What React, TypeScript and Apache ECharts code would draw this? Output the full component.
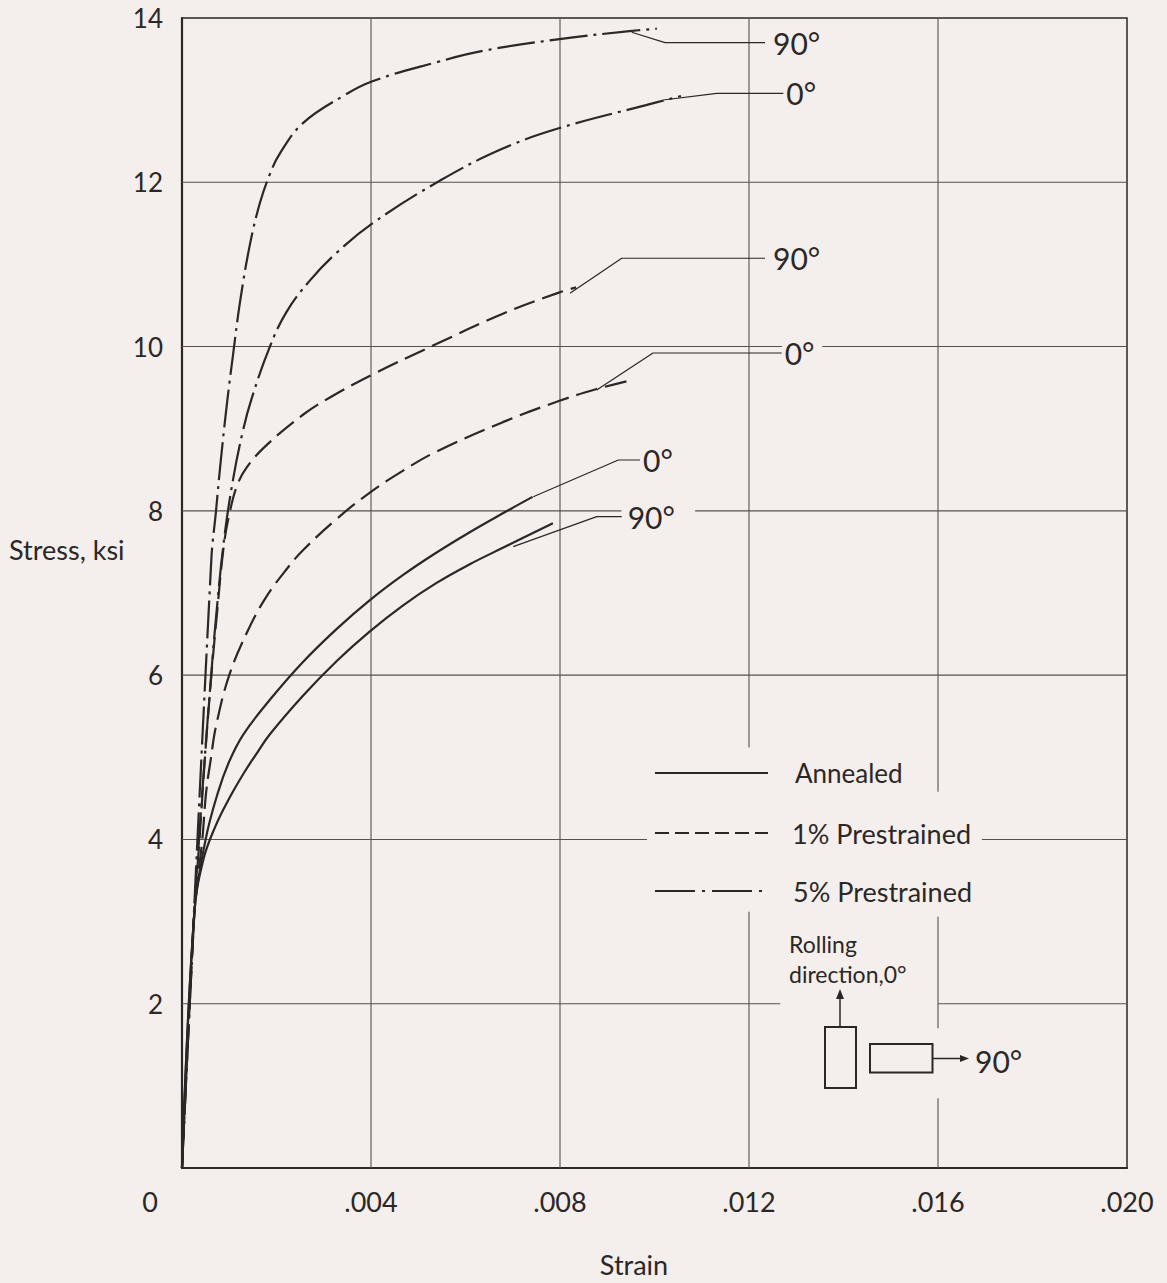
import { useEffect, useRef } from 'react';
import * as echarts from 'echarts';

// ---------- axis ticks ----------
const X_MIN = 0;
const X_MAX = 0.02;
const X_STEP = 0.004;
const Y_MIN = 0;
const Y_MAX = 14;
const Y_STEP = 2;

// ---------- curves: [strain, stress ksi] ----------
const annealed0: [number, number][] = [
  [0, 0], [0.00026, 3.1], [0.0005, 4.0], [0.00076, 4.57], [0.001, 4.95], [0.0013, 5.28],
  [0.00186, 5.7], [0.00256, 6.16], [0.00327, 6.56], [0.00397, 6.91], [0.00468, 7.22],
  [0.00538, 7.49], [0.00609, 7.74], [0.00679, 7.97], [0.00742, 8.17],
];
const annealed90: [number, number][] = [
  [0, 0], [0.00026, 3.1], [0.00045, 3.75], [0.0007, 4.15], [0.001, 4.5], [0.0013, 4.8],
  [0.00155, 5.02], [0.00186, 5.28], [0.00256, 5.75], [0.00327, 6.17], [0.00397, 6.53],
  [0.00468, 6.85], [0.00538, 7.12], [0.00609, 7.35], [0.00679, 7.55], [0.00785, 7.85],
];
const pre1_0: [number, number][] = [
  [0, 0], [0.00026, 3.1], [0.00043, 4.0], [0.00051, 4.57], [0.00061, 4.98], [0.00072, 5.38],
  [0.001, 6.0], [0.0014, 6.55], [0.00178, 6.95], [0.0022, 7.28], [0.00256, 7.52], [0.00327, 7.9],
  [0.00397, 8.22], [0.00468, 8.49], [0.00538, 8.72], [0.00679, 9.08], [0.00799, 9.34],
  [0.00876, 9.48], [0.00957, 9.6],
];
const pre1_90: [number, number][] = [
  [0, 0], [0.00026, 3.1], [0.00037, 4.0], [0.00048, 4.95], [0.0006, 5.85], [0.00074, 6.75],
  [0.00089, 7.6], [0.00101, 7.98], [0.00116, 8.3], [0.00137, 8.53], [0.00179, 8.8],
  [0.00256, 9.17], [0.00313, 9.38], [0.00403, 9.66], [0.00538, 10.03], [0.00679, 10.4],
  [0.00799, 10.66], [0.00834, 10.72],
];
const pre5_0: [number, number][] = [
  [0, 0], [0.00026, 3.1], [0.00036, 4.0], [0.00047, 4.9], [0.00059, 5.8], [0.00072, 6.7],
  [0.00089, 7.65], [0.00108, 8.38], [0.00128, 8.95], [0.00147, 9.36], [0.00186, 10.0],
  [0.00221, 10.42], [0.0027, 10.8], [0.00327, 11.14], [0.00403, 11.5], [0.00549, 12.03],
  [0.00679, 12.41], [0.00799, 12.66], [0.00982, 12.94], [0.01056, 13.05],
];
const pre5_90: [number, number][] = [
  [0, 0], [0.00062, 7.4], [0.00072, 8.0], [0.00081, 8.55], [0.00095, 9.3], [0.00108, 9.9],
  [0.00123, 10.55], [0.00144, 11.25], [0.00165, 11.75], [0.00186, 12.1], [0.00207, 12.35],
  [0.00256, 12.72], [0.00341, 13.05], [0.00403, 13.23], [0.00538, 13.46], [0.00637, 13.6],
  [0.00795, 13.74], [0.00947, 13.84], [0.01005, 13.87],
];

// ---------- leader lines (strain, stress) with their labels ----------
const leaders: { label: string; pts: [number, number][]; gap: number }[] = [
  { label: '90°', pts: [[0.009518, 13.826], [0.010222, 13.7], [0.012339, 13.7]], gap: 8 },
  { label: '0°', pts: [[0.010186, 13.002], [0.011316, 13.083], [0.012726, 13.083]], gap: 3 },
  { label: '90°', pts: [[0.008212, 10.649], [0.009306, 11.075], [0.012339, 11.075]], gap: 8 },
  { label: '0°', pts: [[0.008777, 9.471], [0.009968, 9.922], [0.012692, 9.922]], gap: 3 },
  { label: '0°', pts: [[0.007435, 8.172], [0.009234, 8.619], [0.009693, 8.619]], gap: 3 },
  { label: '90°', pts: [[0.007011, 7.564], [0.008777, 7.929], [0.009306, 7.929]], gap: 6 },
];

// ---------- grid line segments (gaps where the original lettering sits) ----------
const gridSegs: [number, number, number, number][] = [
  [0.004, 0, 0.004, 14], [0.008, 0, 0.008, 14],
  [0.012, 0, 0.012, 3.12], [0.012, 5.12, 0.012, 14],
  [0.016, 0, 0.016, 0.85], [0.016, 1.7, 0.016, 3.06], [0.016, 4.58, 0.016, 14],
  [0, 2, 0.01266, 2], [0.016, 2, 0.02, 2],
  [0, 4, 0.00984, 4], [0.01693, 4, 0.02, 4],
  [0, 6, 0.02, 6],
  [0, 8, 0.0093, 8], [0.01086, 8, 0.02, 8],
  [0, 10, 0.0127, 10], [0.01355, 10, 0.02, 10],
  [0, 12, 0.02, 12],
];

const INK = '#2b2727';
const GRIDC = '#565050';
const BG = '#f4eeec';
const FONT = 'Lato, "DejaVu Sans", sans-serif';
const DASH = [22, 8];
const DASHDOT = [38, 6, 3, 6];

function fmtX(v: number): string {
  if (v === 0) return '{z|0}';
  return '.' + String(Math.round(v * 1000)).padStart(3, '0');
}

export default function App() {
  const ref = useRef<HTMLDivElement>(null);
  useEffect(() => {
    const chart = echarts.init(ref.current!, null, { renderer: 'svg' });

    const curve = (name: string, data: [number, number][], type: any) => ({
      name,
      type: 'line',
      data,
      smooth: 0.4,
      showSymbol: false,
      silent: true,
      z: 5,
      lineStyle: { color: INK, width: 2.2, type, cap: 'butt' },
    });

    const gridSeries = gridSegs.map((s) => ({
      type: 'line',
      data: [[s[0], s[1]], [s[2], s[3]]],
      showSymbol: false,
      silent: true,
      z: 1,
      lineStyle: { color: GRIDC, width: 1.1 },
    }));

    const leaderSeries = leaders.map((l) => ({
      type: 'line',
      data: l.pts,
      showSymbol: false,
      silent: true,
      z: 4,
      lineStyle: { color: INK, width: 1.2 },
      endLabel: {
        show: true,
        formatter: l.label,
        distance: l.gap,
        fontSize: 30,
        fontFamily: FONT,
        color: INK,
      },
    }));

    const text = (t: string, x: number, y: number, size: number, align = 'left') => ({
      type: 'text',
      x,
      y,
      z: 10,
      style: {
        text: t,
        fontSize: size,
        fontFamily: FONT,
        fill: INK,
        textAlign: align,
        align,
        textVerticalAlign: 'middle',
        verticalAlign: 'middle',
      },
    });
    const seg = (x1: number, y1: number, x2: number, y2: number, dash?: number[], w = 2) => ({
      type: 'line',
      z: 10,
      shape: { x1, y1, x2, y2 },
      style: { stroke: INK, lineWidth: w, lineDash: dash || null },
    });

    const option: any = {
      animation: false,
      backgroundColor: BG,
      grid: {
        left: 182,
        right: 40,
        top: 18,
        bottom: 115,
        show: true,
        borderColor: INK,
        borderWidth: 1.5,
      },
      xAxis: {
        type: 'value',
        min: X_MIN,
        max: X_MAX,
        interval: X_STEP,
        axisLine: { show: true, lineStyle: { color: INK, width: 2.2 } },
        axisTick: { show: false },
        splitLine: { show: false },
        axisLabel: {
          showMinLabel: true,
          showMaxLabel: true,
          margin: 20,
          fontSize: 27,
          fontFamily: FONT,
          color: INK,
          formatter: fmtX,
          rich: { z: { fontSize: 27, fontFamily: FONT, color: INK, padding: [0, 64, 0, 0] } },
        },
      },
      yAxis: {
        type: 'value',
        min: Y_MIN,
        max: Y_MAX,
        interval: Y_STEP,
        axisLine: { show: true, lineStyle: { color: INK, width: 2.2 } },
        axisTick: { show: false },
        splitLine: { show: false },
        axisLabel: {
          margin: 19,
          fontSize: 26,
          fontFamily: FONT,
          color: INK,
          padding: [8, 0, 0, 0],
          formatter: (v: number) => (v === 0 ? '' : String(v)),
        },
      },
      graphic: [
        text('Stress, ksi', 9, 549, 27),
        text('Strain', 634, 1264, 27, 'center'),
        // legend
        seg(655, 773, 768, 773),
        text('Annealed', 795, 773, 26),
        seg(655, 833, 768, 833, [14, 6]),
        text('1% Prestrained', 792, 833, 27),
        seg(655, 891, 768, 891, [40, 7, 3, 7]),
        text('5% Prestrained', 793, 891, 27),
        // rolling direction sketch
        text('Rolling', 789, 944, 23),
        text('direction,0°', 789, 974, 23),
        seg(840, 1027, 840, 998, undefined, 1.5),
        { type: 'polygon', z: 10, shape: { points: [[836, 999], [844, 999], [840, 989]] }, style: { fill: INK } },
        { type: 'rect', z: 10, shape: { x: 825, y: 1027, width: 31, height: 61 }, style: { fill: 'none', stroke: INK, lineWidth: 2 } },
        { type: 'rect', z: 10, shape: { x: 870, y: 1044, width: 62.5, height: 28.5 }, style: { fill: 'none', stroke: INK, lineWidth: 2 } },
        seg(932.5, 1058.5, 961, 1058.5, undefined, 1.5),
        { type: 'polygon', z: 10, shape: { points: [[960, 1055], [960, 1062], [969, 1058.5]] }, style: { fill: INK } },
        text('90°', 975, 1061, 30),
      ],
      series: [
        ...gridSeries,
        ...leaderSeries,
        curve('Annealed 0°', annealed0, 'solid'),
        curve('Annealed 90°', annealed90, 'solid'),
        curve('1% Prestrained 0°', pre1_0, DASH),
        curve('1% Prestrained 90°', pre1_90, DASH),
        curve('5% Prestrained 0°', pre5_0, DASHDOT),
        curve('5% Prestrained 90°', pre5_90, DASHDOT),
      ],
    };
    chart.setOption(option);
    return () => chart.dispose();
  }, []);
  return (
    <div
      ref={ref}
      style={{ position: 'absolute', left: 0, top: 0, width: 1167, height: 1283 }}
    />
  );
}
